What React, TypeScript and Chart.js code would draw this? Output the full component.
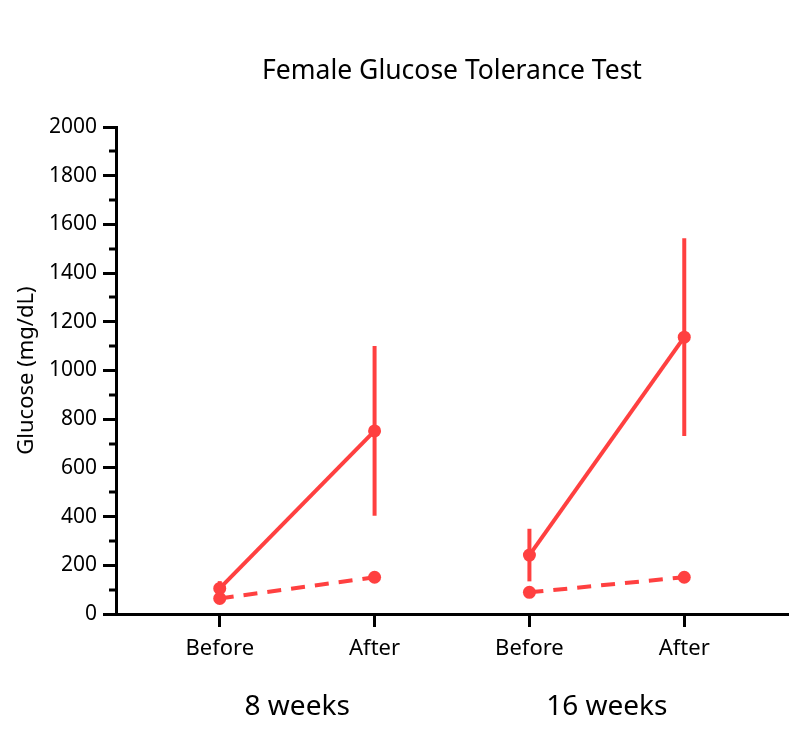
import React, { useEffect, useRef } from "react";
import { Chart, registerables } from "chart.js";

Chart.register(...registerables);

const chartTitle = "Female Glucose Tolerance Test";
const yTitle = "Glucose (mg/dL)";
const categories = ["Before", "After", "Before", "After"];
const groups = ["8 weeks", "16 weeks"];
const groupCenters = [0.5, 2.5];
const xPositions = [0, 1, 2, 3];
const solidMeans = [105, 752, 242, 1137];
const solidErrors = [30, 349, 108, 406];
const dashedMeans = [64, 151, 89, 151];
const yMin = 0;
const yMax = 2000;
const yMajorStep = 200;
const yMinorStep = 100;

const RED = "rgb(255,64,64)";
const FONT = "'Noto Sans', sans-serif";

const errorBarPlugin = {
  id: "errorBars",
  beforeDatasetsDraw(chart: any) {
    const { ctx, scales } = chart;
    const xs = scales.x;
    const ys = scales.y;
    ctx.save();
    ctx.strokeStyle = RED;
    ctx.lineWidth = 4;
    ctx.lineCap = "butt";
    solidMeans.forEach((m, i) => {
      const e = solidErrors[i];
      const px = xs.getPixelForValue(xPositions[i]);
      ctx.beginPath();
      ctx.moveTo(px, ys.getPixelForValue(m + e));
      ctx.lineTo(px, ys.getPixelForValue(m - e));
      ctx.stroke();
    });
    ctx.restore();
  },
  afterDraw(chart: any) {
    const { ctx, scales, chartArea } = chart;
    const ys = scales.y;
    const left = chartArea.left;
    ctx.save();
    ctx.strokeStyle = "#000";
    ctx.lineWidth = 3;
    for (let v = yMin; v <= yMax; v += yMinorStep) {
      if (v % yMajorStep === 0) continue;
      const py = Math.round(ys.getPixelForValue(v));
      ctx.beginPath();
      ctx.moveTo(left - 7, py);
      ctx.lineTo(left, py);
      ctx.stroke();
    }
    // chart title centred over the plot area
    ctx.fillStyle = "#000";
    ctx.font = `26.5px ${FONT}`;
    ctx.textAlign = "center";
    ctx.textBaseline = "middle";
    ctx.fillText(chartTitle, (chartArea.left + chartArea.right) / 2, 71);
    ctx.restore();
  },
};

export default function App() {
  const ref = useRef<HTMLCanvasElement | null>(null);
  useEffect(() => {
    document.body.style.margin = "0";
    const canvas = ref.current;
    if (!canvas) return;
    const chart = new Chart(canvas, {
      type: "line",
      data: {
        datasets: [
          {
            label: "solid",
            data: xPositions.map((x, i) => ({ x, y: solidMeans[i] })),
            borderColor: RED,
            backgroundColor: RED,
            borderWidth: 4,
            pointRadius: 6.5,
            pointBorderWidth: 0,
            pointBackgroundColor: RED,
            segment: {
              borderColor: (c: any) => (c.p0DataIndex === 1 ? "transparent" : RED),
            },
          },
          {
            label: "dashed",
            data: xPositions.map((x, i) => ({ x, y: dashedMeans[i] })),
            borderColor: RED,
            backgroundColor: RED,
            borderWidth: 4,
            borderDash: [14, 10],
            pointRadius: 6.5,
            pointBorderWidth: 0,
            pointBackgroundColor: RED,
            segment: {
              borderColor: (c: any) => (c.p0DataIndex === 1 ? "transparent" : RED),
            },
          },
        ],
      },
      options: {
        animation: false,
        responsive: false,
        layout: { padding: { top: 127, right: 12, bottom: 0, left: 0 } },
        plugins: {
          legend: { display: false },
          tooltip: { enabled: false },
          title: { display: false },
        },
        scales: {
          x: {
            type: "linear",
            position: "bottom",
            min: -0.67,
            max: 3.67,
            afterBuildTicks: (s: any) => {
              s.ticks = xPositions.map((v) => ({ value: v }));
            },
            afterFit: (s: any) => {
              s.height = 52;
            },
            ticks: {
              autoSkip: false,
              maxRotation: 0,
              padding: 9,
              color: "#000",
              font: { family: FONT, size: 22 },
              callback: (v: any) => categories[Math.round(v)],
            },
            grid: {
              drawOnChartArea: false,
              drawTicks: true,
              tickLength: 13,
              tickWidth: 3,
              tickColor: "#000",
            },
            border: { display: true, width: 3, color: "#000" },
          },
          x2: {
            type: "linear",
            position: "bottom",
            min: -0.67,
            max: 3.67,
            afterBuildTicks: (s: any) => {
              s.ticks = groupCenters.map((v) => ({ value: v }));
            },
            afterFit: (s: any) => {
              s.height = 88;
            },
            ticks: {
              autoSkip: false,
              maxRotation: 0,
              padding: 16,
              color: "#000",
              font: { family: FONT, size: 28 },
              callback: (_v: any, i: number) => groups[i],
            },
            grid: { display: false },
            border: { display: false },
          },
          y: {
            type: "linear",
            min: yMin,
            max: yMax,
            afterFit: (s: any) => {
              s.width = 116;
            },
            ticks: {
              stepSize: yMajorStep,
              padding: 6,
              color: "#000",
              font: { family: FONT, size: 21 },
              callback: (v: any) => String(v),
            },
            grid: {
              drawOnChartArea: false,
              drawTicks: true,
              tickLength: 13,
              tickWidth: 3,
              tickColor: "#000",
            },
            border: { display: true, width: 3, color: "#000" },
            title: {
              display: true,
              text: yTitle,
              color: "#000",
              font: { family: FONT, size: 22 },
              padding: { top: 14, bottom: 0 },
            },
          },
        },
      },
      plugins: [errorBarPlugin],
    } as any);
    return () => chart.destroy();
  }, []);
  return (
    <div style={{ width: 800, height: 754 }}>
      <canvas ref={ref} width={800} height={754} style={{ display: "block" }} />
    </div>
  );
}
